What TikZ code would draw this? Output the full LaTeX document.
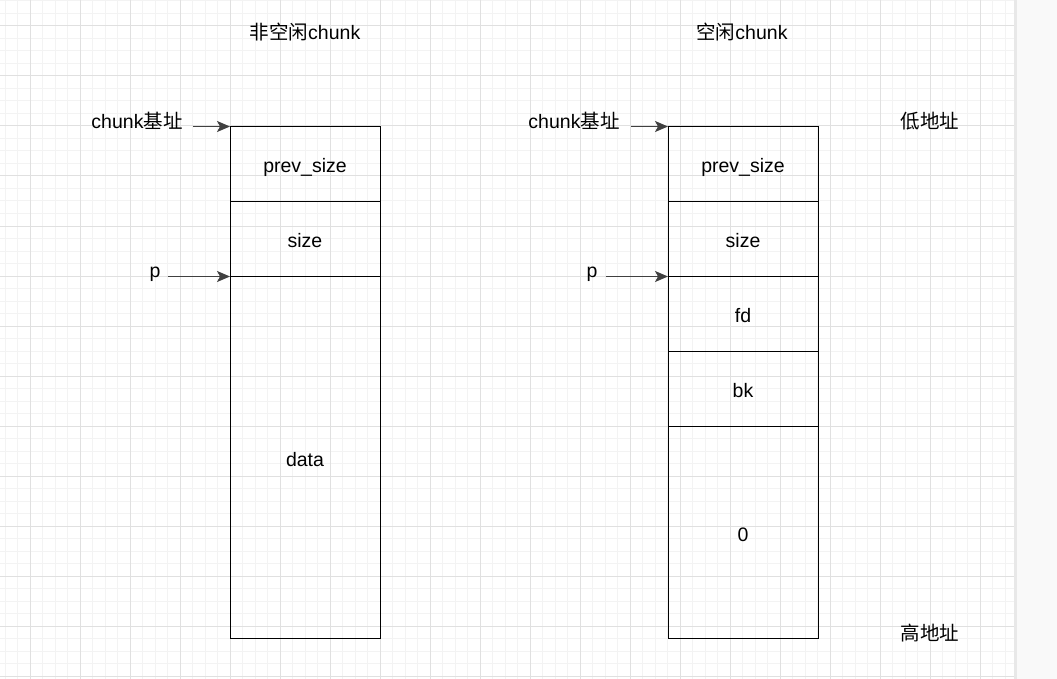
\documentclass[tikz,border=0pt]{standalone}
\usepackage{fontspec}
\setmainfont{Liberation Sans}
\newfontfamily\cjk{Noto Sans CJK SC}
\usetikzlibrary{arrows.meta}
\definecolor{minorgrid}{HTML}{F3F3F3}
\definecolor{majorgrid}{HTML}{E0E0E0}
\definecolor{pagebg}{HTML}{F9F9F9}
\definecolor{pageedge}{HTML}{E8E8E8}
\tikzset{
  cell/.style={draw=black, line width=1pt, minimum width=150pt, inner sep=0pt, outer sep=0pt, text height=17pt, text depth=0pt, font=\fontsize{19.5}{23}\selectfont},
  lbl/.style={anchor=base, inner sep=0pt, font=\fontsize{19.5}{23}\selectfont},
  ptr/.style={-{Stealth[length=13pt,width=11pt,inset=3pt]}, line width=1.2pt, draw=black!75, fill=black}
}
\begin{document}
\begin{tikzpicture}[x=1pt,y=-1pt]
\useasboundingbox (0,0) rectangle (1057,679);
\fill[white] (0,0) rectangle (1057,679);
% grid
\foreach \i in {0,...,80} {
  \pgfmathsetmacro{\gx}{5+12.5*\i}
  \draw[minorgrid, line width=1pt] (\gx,0) -- (\gx,679);
}
\foreach \i in {0,...,54} {
  \pgfmathsetmacro{\gy}{1+12.5*\i}
  \draw[minorgrid, line width=1pt] (0,\gy) -- (1014,\gy);
}
\foreach \i in {0,...,19} {
  \pgfmathsetmacro{\gx}{30+50*\i}
  \draw[majorgrid, line width=1pt] (\gx,0) -- (\gx,679);
}
\foreach \i in {0,...,13} {
  \pgfmathsetmacro{\gy}{26+50*\i}
  \draw[majorgrid, line width=1pt] (0,\gy) -- (1014,\gy);
}
\fill[pagebg] (1014,0) rectangle (1057,679);
\fill[pageedge] (1014,0) rectangle (1016.5,679);

% titles
\node[lbl] (t1) at (305,40) {{\cjk 非空闲}chunk};
\node[lbl] (t2) at (742,40) {{\cjk 空闲}chunk};
\node[lbl] (low) at (930,128.5) {\cjk 低地址};
\node[lbl] (high) at (930,640.5) {\cjk 高地址};

% left chunk
\node[cell, minimum height=75pt, anchor=north west] (l1) at (230,126.5) {prev\_size};
\node[cell, minimum height=75pt, anchor=north] (l2) at (l1.south) {size};
\node[cell, minimum height=362pt, anchor=north] (l3) at (l2.south) {data};

% right chunk
\node[cell, minimum height=75pt, anchor=north west] (r1) at (668,126.5) {prev\_size};
\node[cell, minimum height=75pt, anchor=north] (r2) at (r1.south) {size};
\node[cell, minimum height=75pt, anchor=north] (r3) at (r2.south) {fd};
\node[cell, minimum height=75pt, anchor=north] (r4) at (r3.south) {bk};
\node[cell, minimum height=212pt, anchor=north] (r5) at (r4.south) {0};

% labels and pointers
\node[lbl] (lbase) at (137,128.5) {chunk{\cjk 基址}};
\node[lbl] (lp) at (155,277) {p};
\node[lbl] (rbase) at (574,128.5) {chunk{\cjk 基址}};
\node[lbl] (rp) at (592,277) {p};

\coordinate (lbs) at (193,126.5);
\coordinate (lps) at (168,276.5);
\coordinate (rbs) at (631,126.5);
\coordinate (rps) at (606,276.5);

\draw[ptr] (lbs) -- (l1.north west);
\draw[ptr] (lps) -- (l2.south west);
\draw[ptr] (rbs) -- (r1.north west);
\draw[ptr] (rps) -- (r2.south west);
\end{tikzpicture}
\end{document}
